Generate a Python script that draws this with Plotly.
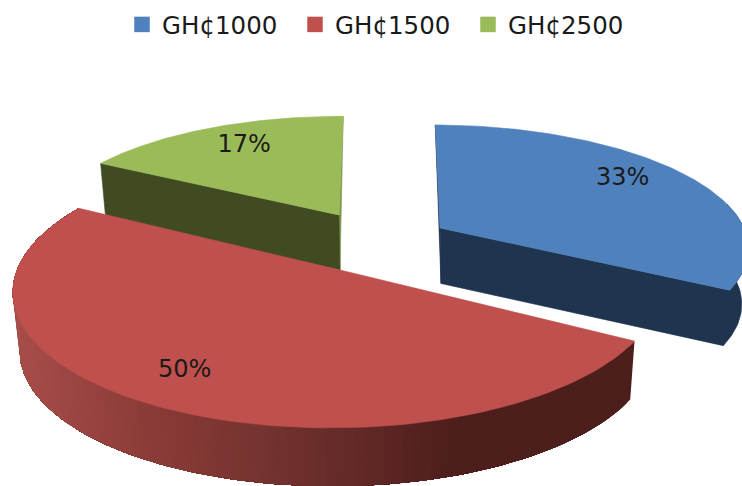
import numpy as np
import plotly.graph_objects as go

categories = ["GH¢1000", "GH¢1500", "GH¢2500"]
percent_values = [33, 50, 17]
percent_labels = ["33%", "50%", "17%"]

W, H = 742, 486
FONT = "DejaVu Sans"
TOP = ["#4F81BD", "#C0504D", "#9BBB59"]
WALL = ["#1F344E", None, "#414B22"]
START = 29.3 - 360 * percent_values[0] / 100   # blue slice start, degrees on the tilted circle
K = 0.145                                      # perspective strength

# slice geometry (tip position, radii, shear, extrusion), one per category
GEOM = [
    dict(tx=440, ty=228, a=304, b=118, ex=0, shear=0.068, depth=55.5, c=0.975),
    dict(tx=340, ty=270, a=320, b=135, ex=-3, shear=-0.04, depth=58.5, c=0.982),
    dict(tx=339, ty=215, a=294, b=113, ex=0, shear=-0.02, depth=55, c=0.983),
]
LABEL = [dict(frac=0.445, r=0.78, dx=8), dict(frac=0.523, r=0.794, dx=6), dict(frac=0.547, r=0.78, dx=-1)]
LABEL_DY = 2


def top_xy(g, deg, r=1.0):
    t = np.radians(deg)
    w = 1 - K * r * np.sin(t)
    dy = g["b"] * r * np.sin(t) / w
    return g["tx"] + g["ex"] * r + g["a"] * r * np.cos(t) / w + g["shear"] * dy, g["ty"] + dy


def bottom_xy(g, deg, r=1.0):
    x, y = top_xy(g, deg, r)
    return g["tx"] + 1 + g["c"] * (x - g["tx"]), y + g["depth"]


def poly(fig, xs, ys, color, width=0.6):
    fig.add_trace(go.Scatter(x=list(xs), y=list(ys), mode="lines", fill="toself", fillcolor=color,
                             line=dict(color=color, width=width), showlegend=False, hoverinfo="skip"))


sweeps = [360 * v / 100 for v in percent_values]
starts = [START, START + sweeps[0], START + sweeps[0] + sweeps[1]]
ends = [s + d for s, d in zip(starts, sweeps)]

fig = go.Figure()

# legend entries
for name, col in zip(categories, TOP):
    fig.add_trace(go.Scatter(x=[None], y=[None], mode="markers", name=name,
                             marker=dict(symbol="square", size=15.5, color=col)))


def face(g, a0, a1):
    ang = np.linspace(a0, a1, 120)
    x, y = top_xy(g, ang)
    return np.r_[g["tx"], x, g["tx"]], np.r_[g["ty"], y, g["ty"]]


def cut_face(g, deg, color):
    x, y = top_xy(g, deg)
    bx, by = bottom_xy(g, deg)
    poly(fig, [g["tx"], x, bx, g["tx"] + 1, g["tx"]], [g["ty"], y, by, g["ty"] + g["depth"], g["ty"]], color)


# green slice (back)
g = GEOM[2]
x, y = top_xy(g, ends[2])
poly(fig, [g["tx"], x, g["tx"] + 1, g["tx"]], [g["ty"], y, g["ty"] + g["depth"], g["ty"]], "#7C9A48")
cut_face(g, starts[2], WALL[2])
poly(fig, *face(g, starts[2], ends[2]), TOP[2])

# blue slice: cut face and visible outer wall as one outline
g = GEOM[0]
x, y = top_xy(g, starts[0])
poly(fig, [g["tx"], x, g["tx"] + 1, g["tx"]], [g["ty"], y, g["ty"] + g["depth"], g["ty"]], WALL[0])
ang = np.linspace(-12, ends[0], 40)
tx_, ty_ = top_xy(g, ang)
bx_, by_ = bottom_xy(g, ang)
poly(fig,
     np.r_[g["tx"], g["tx"] + 1, bx_[::-1], tx_, g["tx"]],
     np.r_[g["ty"], g["ty"] + g["depth"], by_[::-1], ty_, g["ty"]],
     WALL[0])
poly(fig, *face(g, starts[0], ends[0]), TOP[0])

# red slice: shaded outer wall (each band runs on under the next one, so no seams), then top
g = GEOM[1]
stop_x = [17, 150, 300, 460, 640]
stop_r = [168, 140, 110, 76, 76]
stop_g = [78, 60, 48, 30, 30]
stop_b = [74, 56, 45, 28, 28]
edges = np.linspace(starts[1], ends[1], 121)
for i in range(len(edges) - 1):
    ang = np.linspace(edges[i], ends[1], max(3, 121 - i))
    tx_, ty_ = top_xy(g, ang)
    bx_, by_ = bottom_xy(g, ang)
    xm = float(bottom_xy(g, (edges[i] + edges[i + 1]) / 2)[0])
    col = "rgb(%d,%d,%d)" % (np.interp(xm, stop_x, stop_r), np.interp(xm, stop_x, stop_g), np.interp(xm, stop_x, stop_b))
    poly(fig, np.r_[tx_, bx_[::-1]], np.r_[ty_, by_[::-1]], col, width=0)
poly(fig, *face(g, starts[1], ends[1]), TOP[1])

# percentage labels
for i, txt in enumerate(percent_labels):
    lx, ly = top_xy(GEOM[i], starts[i] + LABEL[i]["frac"] * sweeps[i], LABEL[i]["r"])
    fig.add_trace(go.Scatter(x=[lx + LABEL[i]["dx"]], y=[ly + LABEL_DY], mode="text", text=[txt],
                             textposition="middle center",
                             textfont=dict(family=FONT, size=24, color="#1a1a1a"),
                             showlegend=False, hoverinfo="skip"))

fig.update_layout(
    width=W, height=H, autosize=False,
    margin=dict(l=0, r=0, t=0, b=0, pad=0),
    paper_bgcolor="white", plot_bgcolor="white",
    xaxis=dict(range=[0, W], visible=False, fixedrange=True),
    yaxis=dict(range=[H, 0], visible=False, fixedrange=True),
    legend=dict(orientation="h", x=122 / W, xanchor="left", y=1 - 2 / H, yanchor="top",
                font=dict(family=FONT, size=24.5, color="#1a1a1a"),
                entrywidth=128, entrywidthmode="pixels", bgcolor="rgba(0,0,0,0)", itemclick=False, itemdoubleclick=False),
)
fig.write_html("out.html", config=dict(displayModeBar=False),
               post_script="document.body.style.margin='0';document.documentElement.style.overflow='hidden';")
